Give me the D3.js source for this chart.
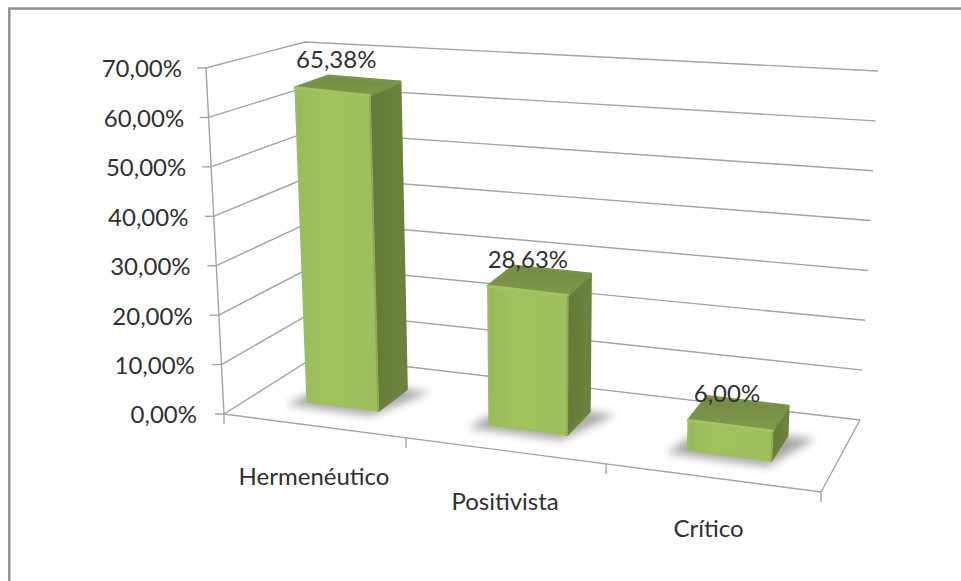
<!DOCTYPE html>
<html><head><meta charset="utf-8">
<script src="https://cdn.jsdelivr.net/npm/d3@7"></script>
<style>html,body{margin:0;padding:0;background:#fff}svg{display:block}text{font-family:Lato,"Open Sans",sans-serif;fill:#303030}</style>
</head><body><svg id="c" width="961" height="581"></svg>
<script>
const categories = ["Hermenéutico", "Positivista", "Crítico"];
const values = [65.38, 28.63, 6.00];
const valueLabels = ["65,38%", "28,63%", "6,00%"];
const tickValues = [0, 10, 20, 30, 40, 50, 60, 70];
const tickLabels = ["0,00%", "10,00%", "20,00%", "30,00%", "40,00%", "50,00%", "60,00%", "70,00%"];

const W = 961, H = 581;
const svg = d3.select("#c");

// projection: u along category axis, d depth, v value
const uScale = d3.scaleLinear().domain([0, 1, 2, 3]).range([0, 0.305, 0.64, 1]);
const corners = { // [x at v=0, y at v=0, x at v=70, y at v=70]
  fl: [224, 414, 206, 68],
  fr: [821, 492, 835, 152],
  bl: [316, 356, 305, 42],
  br: [860, 420, 878, 71]
};
const vScale = d3.scaleLinear().domain([0, 70]).range([0, 1]);
const gapScale = d3.scaleLinear().domain([0, 70]).range([27, 24]);
const labelLift = d3.scaleLinear().domain([0, 30, 70]).range([12, 12, 18]);
const catShift = d3.scaleLinear().domain([0, 1, 2]).range([-1, -1, -5]);
const lerp = (a, b, t) => a + (b - a) * t;
function proj(cat, d, v) {
  const u = uScale(cat), t = vScale(v);
  const pt = c => [lerp(c[0], c[2], t), lerp(c[1], c[3], t)];
  const fl = pt(corners.fl), fr = pt(corners.fr), bl = pt(corners.bl), br = pt(corners.br);
  const f = [lerp(fl[0], fr[0], u), lerp(fl[1], fr[1], u)];
  const b = [lerp(bl[0], br[0], u), lerp(bl[1], br[1], u)];
  return [lerp(f[0], b[0], d), lerp(f[1], b[1], d)];
}
const line = d3.line();
const GRID = "#a3a3a3";
const FS = 24;

const defs = svg.append("defs");
const blur = defs.append("filter").attr("id", "sh").attr("x", "-30%").attr("y", "-50%").attr("width", "160%").attr("height", "200%");
blur.append("feGaussianBlur").attr("stdDeviation", 4);
const gf = defs.append("linearGradient").attr("id", "front").attr("x1", 0).attr("x2", 1).attr("y1", 0).attr("y2", 0);
[[0, "#98ba5a"], [0.35, "#a0c25f"], [1, "#9cbe5c"]].forEach(s => gf.append("stop").attr("offset", s[0]).attr("stop-color", s[1]));
const gs = defs.append("linearGradient").attr("id", "side").attr("x1", 0).attr("x2", 1).attr("y1", 0).attr("y2", 0);
[[0, "#647a39"], [1, "#6d843e"]].forEach(s => gs.append("stop").attr("offset", s[0]).attr("stop-color", s[1]));
const gt = defs.append("linearGradient").attr("id", "top").attr("x1", 0).attr("x2", 0).attr("y1", 0).attr("y2", 1);
[[0, "#738a42"], [1, "#7f9a4a"]].forEach(s => gt.append("stop").attr("offset", s[0]).attr("stop-color", s[1]));

// page frame
svg.append("path").attr("d", `M9.3,${H}V8.5H${W}`).attr("fill", "none").attr("stroke", "#8f8f8f").attr("stroke-width", 2.4);

// gridlines: left wall + back wall
const gGrid = svg.append("g").attr("fill", "none").attr("stroke", GRID).attr("stroke-width", 1.4);
tickValues.forEach(v => {
  gGrid.append("path").attr("d", line([proj(0, 0, v), proj(0, 1, v), proj(3, 1, v)]));
  const p = proj(0, 0, v);
  gGrid.append("path").attr("d", line([[p[0] - 9, p[1]], p]));
});
// left vertical axis
gGrid.append("path").attr("d", line([proj(0, 0, 0), proj(0, 0, 70)]));
// floor front + right edges and category ticks
gGrid.append("path").attr("d", line([proj(0, 0, 0), proj(3, 0, 0), proj(3, 1, 0)]));
[0, 1, 2, 3].forEach(c => {
  const p = proj(c, 0, 0);
  gGrid.append("path").attr("d", line([p, [p[0], p[1] + 10]]));
});

// tick labels
svg.append("g").selectAll("text").data(tickValues).join("text")
  .attr("x", v => proj(0, 0, v)[0] - gapScale(v))
  .attr("y", v => proj(0, 0, v)[1] + 1)
  .attr("dy", "0.35em").attr("text-anchor", "end").attr("font-size", FS)
  .text((v, i) => tickLabels[i]);

// bars
const barHalf = 0.2, dFront = 0.33, dBack = 0.68;
const bars = svg.append("g");
categories.forEach((name, i) => {
  const L = i + 0.5 - barHalf, R = i + 0.5 + barHalf, v = values[i];
  const g = bars.append("g");
  const poly = pts => line(pts) + "Z";
  // shadow on the floor
  g.append("path").attr("d", poly([proj(L - 0.08, dFront - 0.08, 0), proj(R, dFront - 0.09, 0), proj(R + 0.14, dBack, 0), proj(L, dBack, 0)]))
    .attr("fill", "#707070").attr("opacity", 0.6).attr("filter", "url(#sh)");
  const FLb = proj(L, dFront, 0), FRb = proj(R, dFront, 0), BRb = proj(R, dBack, 0);
  const FLt = proj(L, dFront, v), FRt = proj(R, dFront, v), BRt = proj(R, dBack, v), BLt = proj(L, dBack, v);
  g.append("path").attr("d", poly([FRb, BRb, BRt, FRt])).attr("fill", "url(#side)").attr("stroke", "#6a8140").attr("stroke-width", 3).attr("stroke-linejoin", "round");
  g.append("path").attr("d", poly([FLt, FRt, BRt, BLt])).attr("fill", "url(#top)").attr("stroke", "#7a9346").attr("stroke-width", 3).attr("stroke-linejoin", "round");
  g.append("path").attr("d", poly([FLb, FRb, FRt, FLt])).attr("fill", "url(#front)").attr("stroke", "#9cbe5c").attr("stroke-width", 2).attr("stroke-linejoin", "round");
  // bevel highlight along the top front edge
  g.append("path").attr("d", line([FLt, FRt])).attr("fill", "none").attr("stroke", "#a3c365").attr("stroke-width", 3).attr("stroke-linecap", "round");
  g.append("path").attr("d", line([FRt, FRb])).attr("fill", "none").attr("stroke", "#8aa852").attr("stroke-width", 1.5);
});

// value labels
svg.append("g").selectAll("text").data(values).join("text")
  .attr("x", (v, i) => proj(i + 0.5, (dFront + dBack) / 2, v)[0] - 12)
  .attr("y", (v, i) => proj(i + 0.5, (dFront + dBack) / 2, v)[1] - labelLift(v))
  .attr("text-anchor", "middle").attr("font-size", FS)
  .text((v, i) => valueLabels[i]);

// category labels
svg.append("g").selectAll("text").data(categories).join("text")
  .attr("x", (c, i) => proj(i + 0.5, 0, 0)[0] + catShift(i))
  .attr("y", (c, i) => proj(i + 0.5, 0, 0)[1] + 59)
  .attr("text-anchor", "middle").attr("font-size", FS)
  .text(c => c);
</script></body></html>
